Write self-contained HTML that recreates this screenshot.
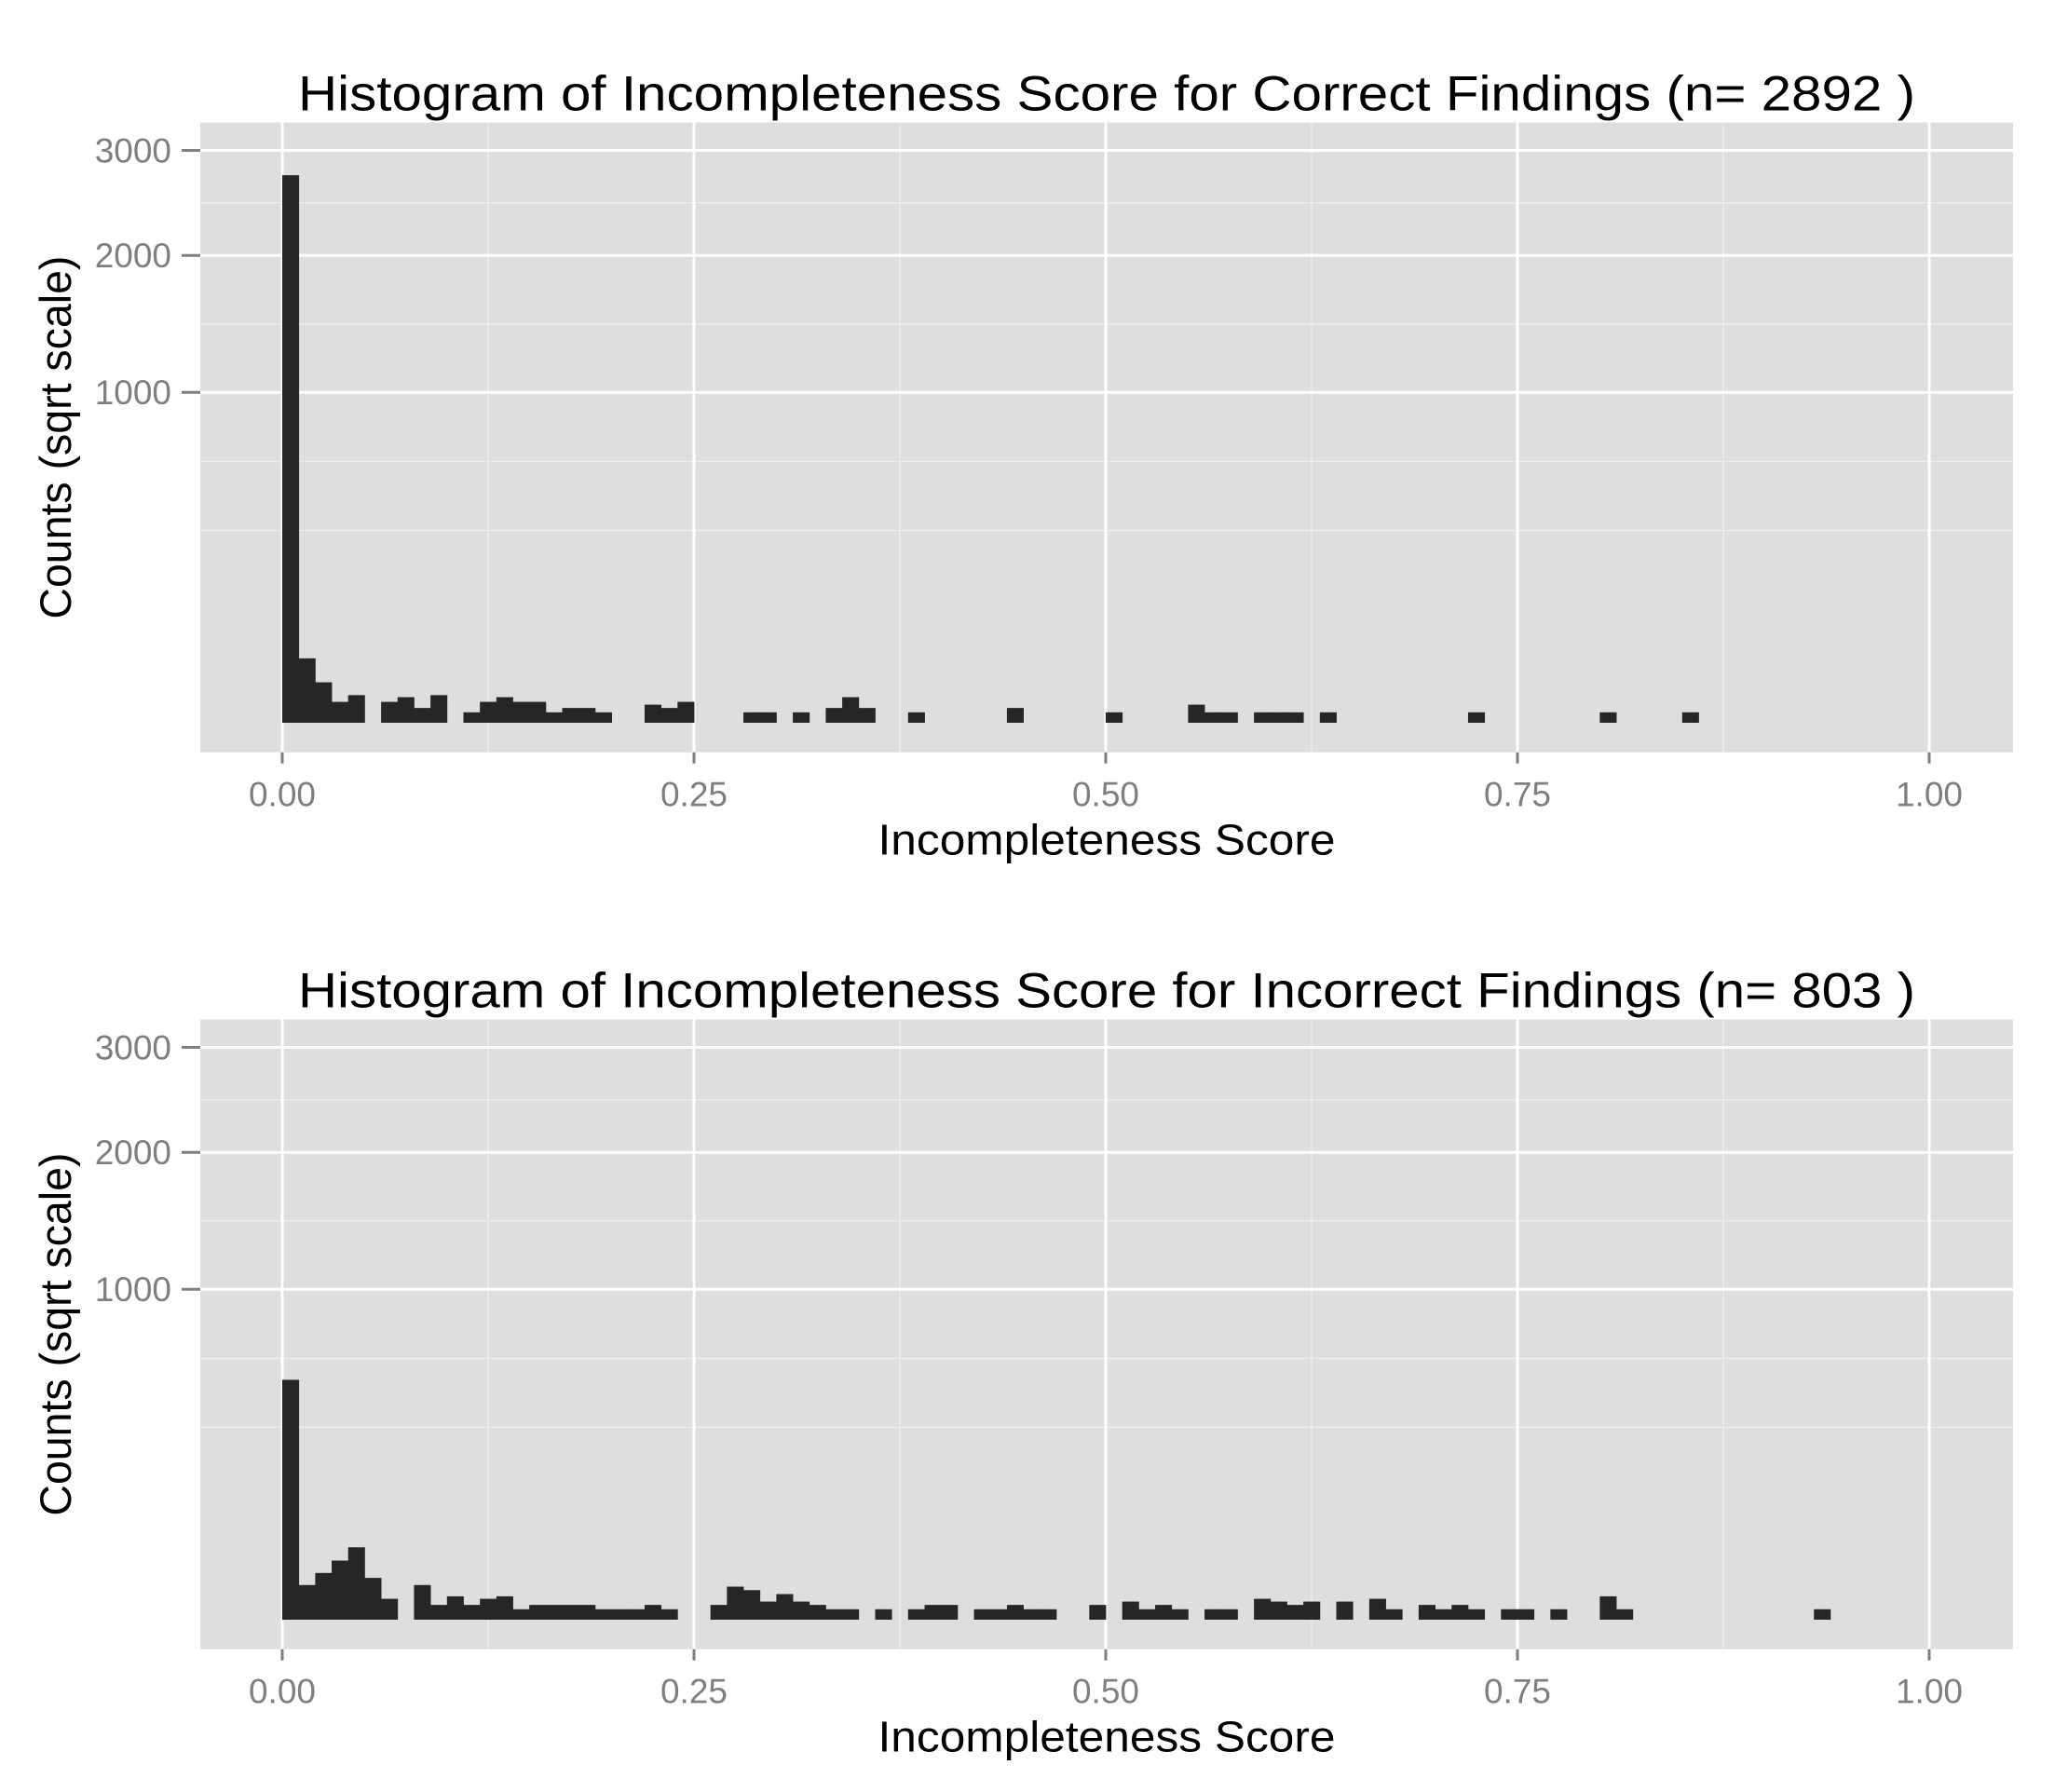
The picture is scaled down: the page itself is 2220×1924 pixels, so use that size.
<!DOCTYPE html>
<html><head><meta charset="utf-8"><style>
html,body{margin:0;padding:0;background:#fff;}
svg{display:block;font-family:"Liberation Sans",sans-serif;}
</style></head><body>
<svg id="chart" width="2220" height="1924" xmlns="http://www.w3.org/2000/svg"></svg>
<script>
// ---- data ----
const binWidth = 0.01;
const xTicks = [0, 0.25, 0.5, 0.75, 1.0];
const xTickLabels = ["0.00", "0.25", "0.50", "0.75", "1.00"];
const xMinor = [0.125, 0.375, 0.625, 0.875];
const yTicks = [1000, 2000, 3000];
const yTickLabels = ["1000", "2000", "3000"];
const yMinorSqrt = [18.4, 25.0, 38.17, 49.75];
const topBins = [0,1,2,3,4,6,7,8,9,11,12,13,14,15,16,17,18,19,22,23,24,28,29,31,33,34,35,38,44,50,55,56,57,59,60,61,63,72,80,85];
const topCounts = [2745,38,15,4,7,4,6,2,7,1,4,6,4,4,1,2,2,1,3,2,4,1,1,1,2,6,2,1,2,1,3,1,1,1,1,1,1,1,1,1];
const botBins = [0,1,2,3,4,5,6,8,9,10,11,12,13,14,15,16,17,18,19,20,21,22,23,26,27,28,29,30,31,32,33,34,36,38,39,40,42,43,44,45,46,49,51,52,53,54,56,57,59,60,61,62,64,66,67,69,70,71,72,74,75,77,80,81,93];
const botCounts = [527,11,20,32,48,16,4,11,2,5,2,4,5,1,2,2,2,2,1,1,1,2,1,2,10,8,3,6,3,2,1,1,1,1,2,2,1,1,2,1,1,2,3,1,2,1,1,1,4,3,2,3,3,4,1,2,1,2,1,1,1,1,5,1,1];

const NS = "http://www.w3.org/2000/svg";
const svg = document.getElementById("chart");
function mk(tag, attrs, parent){
  const e = document.createElementNS(NS, tag);
  for (const k in attrs) e.setAttribute(k, attrs[k]);
  (parent||svg).appendChild(e);
  return e;
}
const X0 = 303, XU = 1768, K = 11.22;
const xs = v => X0 + v * XU;

function panel(id, base, title, bins, counts){
  const ys = c => base - Math.sqrt(c) * K;
  const ysq = s => base - s * K;
  const top = base - 644.5, bot = base + 31.7, left = 215, right = 2161;
  const g = mk("g", {});
  
  
  const bg = mk("rect", {x:left, y:top, width:right-left, height:bot-top, fill:"#dedede"}, g);
  
  
  yMinorSqrt.forEach(s => {
    const l = mk("line", {x1:left, x2:right, y1:ysq(s), y2:ysq(s), stroke:"#ececec", "stroke-width":1.5}, g);
    
    
  });
  xMinor.forEach(v => {
    const l = mk("line", {x1:xs(v), x2:xs(v), y1:top, y2:bot, stroke:"#ececec", "stroke-width":1.5}, g);
    
    
  });
  yTicks.forEach((t, i) => {
    const y = ys(t);
    const l = mk("line", {x1:left, x2:right, y1:y, y2:y, stroke:"#fff", "stroke-width":3}, g);
    
    
    const tk = mk("line", {x1:195, x2:215, y1:y, y2:y, stroke:"#7f7f7f", "stroke-width":3}, g);
    
    
    const tx = mk("text", {x:184, y:y+13, "text-anchor":"end", "font-size":37, fill:"#7f7f7f"}, g);
    tx.textContent = yTickLabels[i];
    
    
  });
  xTicks.forEach((v, i) => {
    const l = mk("line", {x1:xs(v), x2:xs(v), y1:top, y2:bot, stroke:"#fff", "stroke-width":3}, g);
    
    
    const tk = mk("line", {x1:xs(v), x2:xs(v), y1:bot, y2:bot+12, stroke:"#7f7f7f", "stroke-width":3}, g);
    
    
    const tx = mk("text", {x:xs(v), y:bot+58, "text-anchor":"middle", "font-size":37, fill:"#7f7f7f"}, g);
    tx.textContent = xTickLabels[i];
    
    
  });
  bins.forEach((b, i) => {
    const x1 = xs(b * binWidth), x2 = xs((b + 1) * binWidth);
    const y = ys(counts[i]);
    const r = mk("rect", {x:x1, y:y, width:x2-x1+0.4, height:base-y, fill:"#262626"}, g);
    
    
  });
  const t = mk("text", {x:1188, y:top-13, "text-anchor":"middle", "font-size":53, fill:"#000", textLength:1736, lengthAdjust:"spacingAndGlyphs"}, g);
  t.textContent = title;
  
  
  const xt = mk("text", {x:1188, y:bot+110, "text-anchor":"middle", "font-size":46, fill:"#000", textLength:491, lengthAdjust:"spacingAndGlyphs"}, g);
  xt.textContent = "Incompleteness Score";
  
  
  const cy = (top + bot) / 2;
  const yt = mk("text", {x:0, y:0, "text-anchor":"middle", "font-size":47, fill:"#000", textLength:390, lengthAdjust:"spacingAndGlyphs", transform:"translate(76," + cy + ") rotate(-90)"}, g);
  yt.textContent = "Counts (sqrt scale)";
  
  
}
panel("correct", 776, "Histogram of Incompleteness Score for Correct Findings (n= 2892 )", topBins, topCounts);
panel("incorrect", 1739, "Histogram of Incompleteness Score for Incorrect Findings (n= 803 )", botBins, botCounts);
</script>
</body></html>
